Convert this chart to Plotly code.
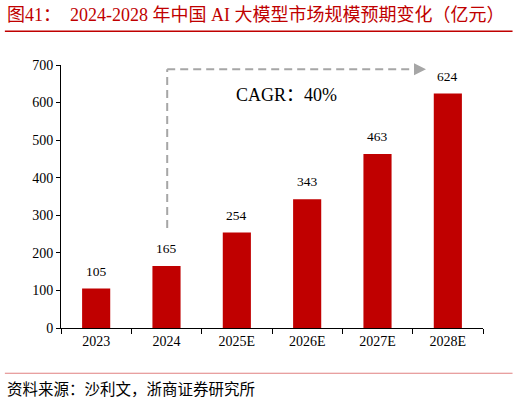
import plotly.graph_objects as go

categories = ["2023", "2024", "2025E", "2026E", "2027E", "2028E"]
values = [105, 165, 254, 343, 463, 624]
y_ticks = [0, 100, 200, 300, 400, 500, 600, 700]

RED = "#C00000"
GRAY = "#A6A6A6"
FONT = "Liberation Serif, Noto Sans CJK SC, serif"

fig = go.Figure()
fig.add_trace(go.Bar(
    x=categories, y=values, width=0.4,
    marker=dict(color=RED, line=dict(width=0)),
    hoverinfo="x+y",
))

# value labels above bars (category index positions)
for i, v in enumerate(values):
    fig.add_annotation(xref="x", yref="y", x=i, y=v, text=str(v), showarrow=False,
                       yanchor="bottom", yshift=8,
                       font=dict(family=FONT, size=13.5, color="#000000"))

# CAGR dashed arrow
fig.add_shape(type="line", xref="x", yref="y", x0=1.01, x1=1.01, y0=266, y1=689,
              line=dict(color=GRAY, width=2, dash="8px,5px"))
fig.add_shape(type="line", xref="x", yref="y", x0=1.01, x1=4.52, y0=689, y1=689,
              line=dict(color=GRAY, width=2, dash="8px,5px"))
fig.add_annotation(xref="x", yref="y", x=4.69, y=689, ax=4.5, ay=689, axref="x", ayref="y",
                   showarrow=True, arrowhead=2, arrowsize=1.2, arrowwidth=2, arrowcolor=GRAY, text="")
fig.add_annotation(xref="x", yref="y", x=2.71, y=619, text="CAGR：40%", showarrow=False,
                   font=dict(family=FONT, size=18, color="#000000"))

# title and source
fig.add_annotation(xref="paper", yref="paper", x=-0.133, xanchor="left", y=1.19, yanchor="middle",
                   text="图41：  2024-2028 年中国 AI 大模型市场规模预期变化（亿元）", showarrow=False,
                   font=dict(family=FONT, size=18, color=RED))
fig.add_shape(type="line", xref="paper", yref="paper", x0=-0.133, x1=1.07, y0=1.128, y1=1.128,
              line=dict(color=RED, width=1.5))
fig.add_shape(type="line", xref="paper", yref="paper", x0=-0.133, x1=1.07, y0=-0.172, y1=-0.172,
              line=dict(color="#E08080", width=1.2))
fig.add_annotation(xref="paper", yref="paper", x=-0.133, xanchor="left", y=-0.233, yanchor="middle",
                   text="资料来源：沙利文，浙商证券研究所", showarrow=False,
                   font=dict(family=FONT, size=15.5, color="#000000"))

fig.update_layout(
    width=520, height=403,
    margin=dict(l=61, r=37, t=65, b=75),
    paper_bgcolor="white", plot_bgcolor="white",
    showlegend=False,
    font=dict(family=FONT, size=14, color="#000000"),
    bargap=0.6,
)
fig.update_xaxes(
    type="category", tickson="boundaries", ticks="outside", ticklen=5, tickcolor="#000",
    showline=True, linecolor="#000", linewidth=1, showgrid=False,
    tickfont=dict(family=FONT, size=14, color="#000"), range=[-0.5, 5.5],
)
fig.update_yaxes(
    range=[0, 700], tickvals=y_ticks, ticks="outside", ticklen=4, tickcolor="#000",
    showline=True, linecolor="#000", linewidth=1, showgrid=False, zeroline=False,
    tickfont=dict(family=FONT, size=14, color="#000"),
)

fig.write_html("out.html", config={"displayModeBar": False},
               post_script="document.body.style.margin='0';")
